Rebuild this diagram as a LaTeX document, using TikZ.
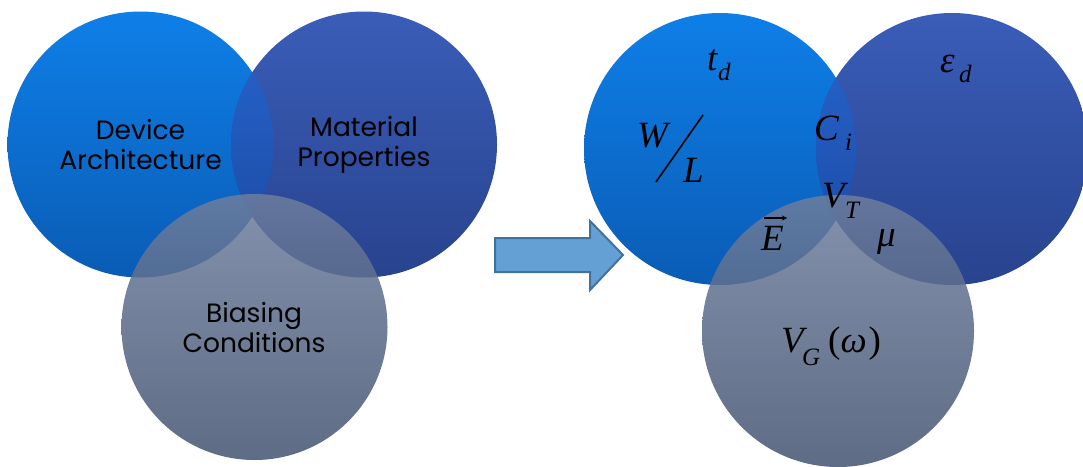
\documentclass[tikz,border=0pt]{standalone}
\usepackage{fontspec}
\setmainfont{Poppins}
\newfontfamily\tms{Liberation Serif}
\usetikzlibrary{arrows.meta}
\definecolor{aTop}{RGB}{14,127,232}
\definecolor{aBot}{RGB}{10,92,181}
\definecolor{bTop}{RGB}{58,93,184}
\definecolor{bBot}{RGB}{40,67,142}
\definecolor{abTop}{RGB}{40,102,208}
\definecolor{abBot}{RGB}{26,72,160}
\definecolor{cTop}{RGB}{110,126,158}
\definecolor{cBot}{RGB}{66,82,112}
\definecolor{arrFill}{RGB}{100,160,212}
\definecolor{arrLine}{RGB}{65,113,156}
\tikzset{
  venn/.style={circle, inner sep=0pt, draw=none},
  circA/.style={venn, top color=aTop, bottom color=aBot},
  circB/.style={venn, top color=bTop, bottom color=bBot},
  circC/.style={venn, top color=cTop, bottom color=cBot, fill opacity=0.85},
  ovl/.style={top color=abTop, bottom color=abBot, draw=none},
  lbl/.style={align=center, font=\fontsize{26.5}{30}\selectfont, text=black, inner sep=0pt},
  mth/.style={font=\tms\itshape\fontsize{37}{37}\selectfont, inner sep=0pt, anchor=base west},
  sub/.style={font=\tms\itshape\fontsize{25}{25}\selectfont, inner sep=0pt, anchor=base west},
  bigarrow/.style={fill=arrFill, draw=arrLine, line width=2pt, line join=miter}
}
\begin{document}
\begin{tikzpicture}[x=1pt, y=-1pt]
\useasboundingbox (0,0) rectangle (1083,466);
% left Venn
\node[circA, minimum size=266pt] (l1) at (140.5,144.5) {};
\node[circB, minimum size=266pt] (l2) at (364,144.5) {};
\begin{scope}
  \clip (l1.center) circle[radius=133pt];
  \shade[ovl] (l2.center) circle[radius=133pt];
\end{scope}
\node[circC, minimum size=266pt] (l3) at (254.5,327) {};
\node[lbl] (t1) at (140.5,145) {Device\\Architecture};
\node[lbl] (t2) at (364,145) {Material\\Properties};
\node[lbl] (t3) at (254,328) {Biasing\\Conditions};
% arrow
\coordinate (a0) at (495,238);
\coordinate (a1) at (590,238);
\coordinate (a2) at (590,221);
\coordinate (a3) at (623,255);
\coordinate (a4) at (590,290);
\coordinate (a5) at (590,272);
\coordinate (a6) at (495,272);
\draw[bigarrow] (a0) -- (a1) -- (a2) -- (a3) -- (a4) -- (a5) -- (a6) -- cycle;
% right Venn
\node[circA, minimum size=272pt] (r1) at (720,149) {};
\node[circB, minimum size=272pt] (r2) at (952,149) {};
\begin{scope}
  \clip (r1.center) circle[radius=136pt];
  \shade[ovl] (r2.center) circle[radius=136pt];
\end{scope}
\node[circC, minimum size=272pt] (r3) at (838,331) {};
% math labels
\node[mth] (td) at (707,70) {t};
\node[sub] (tdsub) at (718,80) {d};
\node[mth] (ed) at (940,72) {ε};
\node[sub] (edsub) at (959,82) {d};
\node[mth] (w) at (637,147) {W};
\node[mth] (l) at (683,182) {L};
\coordinate (s0) at (703,115);
\coordinate (s1) at (656,182);
\draw[line width=1.6pt] (s0) -- (s1);
\node[mth] (ci) at (814,140) {C};
\node[sub] (cisub) at (845,150) {i};
\node[mth] (vt) at (822,207) {V};
\node[sub] (vtsub) at (845,218) {T};
\node[mth] (e) at (761,250) {E};
\coordinate (e0) at (764,218);
\coordinate (e1) at (787,218);
\draw[line width=1.2pt, -{Stealth[length=5pt,width=5pt]}] (e0) -- (e1);
\node[mth] (mu) at (877,246) {μ};
\node[mth] (vg) at (781,352) {V};
\node[sub] (vgsub) at (802,365) {G};
\node[mth] (om) at (828,352) {\upshape(\itshape ω\upshape\kern2pt)};
\end{tikzpicture}
\end{document}
